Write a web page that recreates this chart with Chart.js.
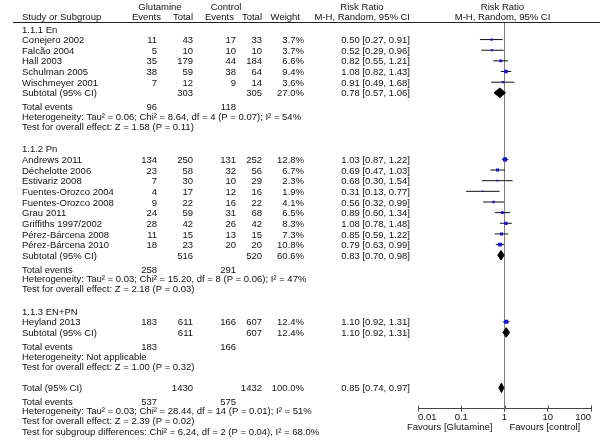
<!DOCTYPE html>
<html>
<head>
<meta charset="utf-8">
<script src="https://cdn.jsdelivr.net/npm/chart.js@4.4.1/dist/chart.umd.min.js"></script>
<style>
  body { margin: 0; background: #fff; }
  #wrap { width: 600px; height: 443px; }
</style>
</head>
<body>
<div id="wrap"><canvas id="forest" width="600" height="443"></canvas></div>
<script>
// ---- data ----
const groupTitles = ['1.1.1 En', '1.1.2 Pn', '1.1.3 EN+PN'];
const groupSizes = [5, 9, 1];

const studyNames = ['Conejero 2002', 'Falcão 2004', 'Hall 2003', 'Schulman 2005', 'Wischmeyer 2001',
  'Andrews 2011', 'Déchelotte 2006', 'Estivariz 2008', 'Fuentes-Orozco 2004', 'Fuentes-Orozco 2008',
  'Grau 2011', 'Griffiths 1997/2002', 'Pérez-Bárcena 2008', 'Pérez-Bárcena 2010', 'Heyland 2013'];
const glutEvents = [11, 5, 35, 38, 7, 134, 23, 7, 4, 9, 24, 28, 11, 18, 183];
const glutTotal = [43, 10, 179, 59, 12, 250, 58, 30, 17, 22, 59, 42, 15, 23, 611];
const ctrlEvents = [17, 10, 44, 38, 9, 131, 32, 10, 12, 16, 31, 26, 13, 20, 166];
const ctrlTotal = [33, 10, 184, 64, 14, 252, 56, 29, 16, 22, 68, 42, 15, 20, 607];
const weights = [3.7, 3.7, 6.6, 9.4, 3.6, 12.8, 6.7, 2.3, 1.9, 4.1, 6.5, 8.3, 7.3, 10.8, 12.4];
const rr = [0.50, 0.52, 0.82, 1.08, 0.91, 1.03, 0.69, 0.68, 0.31, 0.56, 0.89, 1.08, 0.85, 0.79, 1.10];
const rrLow = [0.27, 0.29, 0.55, 0.82, 0.49, 0.87, 0.47, 0.30, 0.13, 0.32, 0.60, 0.78, 0.59, 0.63, 0.92];
const rrHigh = [0.91, 0.96, 1.21, 1.43, 1.68, 1.22, 1.03, 1.54, 0.77, 0.99, 1.34, 1.48, 1.22, 0.99, 1.31];

// subtotals (3 groups) then overall total
const poolLabels = ['Subtotal (95% CI)', 'Subtotal (95% CI)', 'Subtotal (95% CI)', 'Total (95% CI)'];
const poolGlutTotal = [303, 516, 611, 1430];
const poolCtrlTotal = [305, 520, 607, 1432];
const poolWeight = [27.0, 60.6, 12.4, 100.0];
const poolRR = [0.78, 0.83, 1.10, 0.85];
const poolLow = [0.57, 0.70, 0.92, 0.74];
const poolHigh = [1.06, 0.98, 1.31, 0.97];
const poolGlutEvents = [96, 258, 183, 537];
const poolCtrlEvents = [118, 291, 166, 575];
const poolHet = [
  'Heterogeneity: Tau² = 0.06; Chi² = 8.64, df = 4 (P = 0.07); I² = 54%',
  'Heterogeneity: Tau² = 0.03; Chi² = 15.20, df = 8 (P = 0.06); I² = 47%',
  'Heterogeneity: Not applicable',
  'Heterogeneity: Tau² = 0.03; Chi² = 28.44, df = 14 (P = 0.01); I² = 51%'
];
const poolTest = [
  'Test for overall effect: Z = 1.58 (P = 0.11)',
  'Test for overall effect: Z = 2.18 (P = 0.03)',
  'Test for overall effect: Z = 1.00 (P = 0.32)',
  'Test for overall effect: Z = 2.39 (P = 0.02)'
];
const subgroupTest = 'Test for subgroup differences: Chi² = 6.24, df = 2 (P = 0.04), I² = 68.0%';

const tickValues = [0.01, 0.1, 1, 10, 100];
const tickLabels = ['0.01', '0.1', '1', '10', '100'];
const favours = ['Favours [Glutamine]', 'Favours [control]'];

// ---- row layout (in row units) ----
const studyRow = [];
const poolRow = [];
const eventsRow = [];
const hetRow = [];
const testRow = [];
const headerRow = [];
let pos = 0, k = 0;
for (let g = 0; g < groupTitles.length; g++) {
  headerRow.push(pos);
  for (let i = 0; i < groupSizes[g]; i++) { pos += 1; studyRow[k++] = pos; }
  pos += 1; poolRow.push(pos);
  pos += 1.3; eventsRow.push(pos);
  pos += 0.9; hetRow.push(pos);
  pos += 0.95; testRow.push(pos);
  pos += 2.1;
}
poolRow.push(pos - 0.05);
pos += 1.2; eventsRow.push(pos);
pos += 0.9; hetRow.push(pos);
pos += 0.95; testRow.push(pos);
const subgroupRow = pos + 0.95;
const yMin = -0.65, yMax = poolRow[3] + 1.95;

// ---- datasets ----
const datasets = [];
datasets.push({
  label: 'studies',
  data: rr.map((v, i) => ({ x: v, y: studyRow[i] })),
  pointStyle: 'rect',
  pointRadius: weights.map(w => 0.8 * Math.sqrt(w)),
  backgroundColor: '#1212dd',
  borderWidth: 0,
  showLine: false,
  order: 0
});
rr.forEach((v, i) => {
  datasets.push({
    data: [{ x: rrLow[i], y: studyRow[i] }, { x: rrHigh[i], y: studyRow[i] }],
    showLine: true, borderColor: '#111', borderWidth: 1, pointRadius: 0, order: 1
  });
});
poolRR.forEach((v, i) => {
  const r = poolRow[i];
  datasets.push({
    data: [{ x: poolLow[i], y: r }, { x: v, y: r - 0.45 }, { x: poolHigh[i], y: r },
           { x: v, y: r + 0.45 }, { x: poolLow[i], y: r }],
    showLine: true, fill: 'shape', backgroundColor: '#000', borderColor: '#000',
    borderWidth: 1, pointRadius: 0, tension: 0, order: 1
  });
});
datasets.push({
  data: [{ x: 1, y: yMin }, { x: 1, y: yMax }],
  showLine: true, borderColor: '#808080', borderWidth: 1, pointRadius: 0, order: 3
});

// ---- text table ----
const FONT = "9.5px 'Liberation Sans', Arial, sans-serif";
const tablePlugin = {
  id: 'table',
  afterDraw(chart) {
    const c = chart.ctx, ys = chart.scales.y, xs = chart.scales.x;
    const Y = r => ys.getPixelForValue(r) + 1;
    const x1 = xs.getPixelForValue(1);
    const col = { name: 22, gE: 157, gT: 193, cE: 236, cT: 262, wt: 304, rr: 410 };
    c.save();
    c.font = FONT;
    c.fillStyle = '#111';
    c.textBaseline = 'middle';
    const L = (t, x, r) => { c.textAlign = 'left'; c.fillText(t, x, Y(r)); };
    const R = (t, x, r) => { c.textAlign = 'right'; c.fillText(t, x, Y(r)); };
    const C = (t, x, r) => { c.textAlign = 'center'; c.fillText(t, x, Y(r)); };

    // headers
    const h1 = -2.1, h2 = -1.15;
    C('Glutamine', 160, h1); C('Control', 226, h1);
    C('Risk Ratio', 362, h1); C('Risk Ratio', x1 - 2, h1);
    L('Study or Subgroup', col.name, h2);
    R('Events', 161, h2); R('Total', col.gT, h2);
    R('Events', 234, h2); R('Total', col.cT, h2); R('Weight', 300, h2);
    R('M-H, Random, 95% CI', col.rr, h2); C('M-H, Random, 95% CI', x1 - 2, h2);
    c.strokeStyle = '#222'; c.lineWidth = 1;
    c.beginPath();
    c.moveTo(13, Math.round(ys.getPixelForValue(yMin)) + 0.5);
    c.lineTo(600, Math.round(ys.getPixelForValue(yMin)) + 0.5);
    c.stroke();

    const fmt = v => v.toFixed(2);
    groupTitles.forEach((t, g) => L(t, col.name, headerRow[g]));
    studyNames.forEach((n, i) => {
      const r = studyRow[i];
      L(n, col.name, r);
      R(String(glutEvents[i]), col.gE, r); R(String(glutTotal[i]), col.gT, r);
      R(String(ctrlEvents[i]), col.cE, r); R(String(ctrlTotal[i]), col.cT, r);
      R(weights[i].toFixed(1) + '%', col.wt, r);
      R(fmt(rr[i]) + ' [' + fmt(rrLow[i]) + ', ' + fmt(rrHigh[i]) + ']', col.rr, r);
    });
    poolLabels.forEach((t, i) => {
      const r = poolRow[i];
      L(t, col.name, r);
      R(String(poolGlutTotal[i]), col.gT, r); R(String(poolCtrlTotal[i]), col.cT, r);
      R(poolWeight[i].toFixed(1) + '%', col.wt, r);
      R(fmt(poolRR[i]) + ' [' + fmt(poolLow[i]) + ', ' + fmt(poolHigh[i]) + ']', col.rr, r);
      L('Total events', col.name, eventsRow[i]);
      R(String(poolGlutEvents[i]), col.gE, eventsRow[i]);
      R(String(poolCtrlEvents[i]), col.cE, eventsRow[i]);
      L(poolHet[i], col.name, hetRow[i]);
      L(poolTest[i], col.name, testRow[i]);
    });
    L(subgroupTest, col.name, subgroupRow);

    // axis tick stubs above the axis line and the favours labels
    const yb = chart.chartArea.bottom;
    c.strokeStyle = '#444';
    tickValues.forEach(v => {
      const x = Math.round(xs.getPixelForValue(v)) + 0.5;
      c.beginPath(); c.moveTo(x, yb - 3); c.lineTo(x, yb); c.stroke();
    });
    c.textBaseline = 'middle';
    c.textAlign = 'right'; c.fillText(favours[0], x1 - 12, yb + 19);
    c.textAlign = 'left'; c.fillText(favours[1], x1 + 5, yb + 19);
    c.restore();
  }
};

const ctx = document.getElementById('forest').getContext('2d');
const forest = new Chart(ctx, {
  type: 'scatter',
  data: { datasets: datasets },
  plugins: [tablePlugin],
  options: {
    responsive: false,
    animation: false,
    events: [],
    layout: { padding: { left: 418, right: 9, top: 22, bottom: 20 } },
    plugins: { legend: { display: false }, tooltip: { enabled: false } },
    scales: {
      x: {
        type: 'logarithmic',
        position: 'bottom',
        min: 0.01,
        max: 100,
        afterBuildTicks: s => { s.ticks = tickValues.map(v => ({ value: v })); },
        ticks: {
          callback: (v) => tickLabels[tickValues.indexOf(v)],
          autoSkip: false, maxRotation: 0, padding: 0, align: 'inner',
          color: '#111', font: { family: "'Liberation Sans', Arial, sans-serif", size: 9.5 }
        },
        grid: { drawOnChartArea: false, tickLength: 3, color: '#444' },
        border: { color: '#444' }
      },
      y: { type: 'linear', display: false, reverse: true, min: yMin, max: yMax }
    }
  }
});
</script>
</body>
</html>
